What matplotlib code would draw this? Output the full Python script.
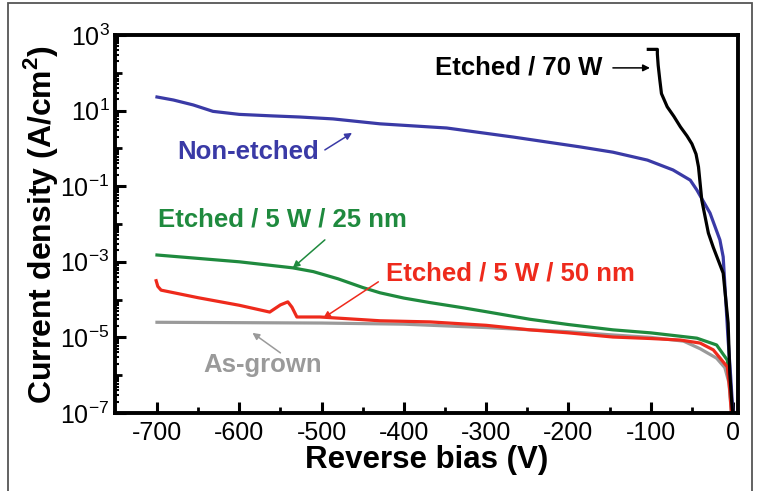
import matplotlib
matplotlib.use("Agg")
import matplotlib.pyplot as plt
import numpy as np
from matplotlib.patches import Rectangle
from matplotlib.ticker import FixedLocator, FixedFormatter, NullFormatter

plt.rcParams['font.family'] = ['Liberation Sans', 'DejaVu Sans']
plt.rcParams['mathtext.fontset'] = 'custom'
plt.rcParams['mathtext.rm'] = 'Liberation Sans'
plt.rcParams['mathtext.bf'] = 'Liberation Sans:bold'

# ---- data (log10 of current density, A/cm^2) ----
v_non_etched = [-700, -680, -656, -632, -600, -560, -526, -486, -429, -348, -267, -186, -146, -104, -73, -52, -44, -28, -16, -12, -6, -3, -1, 0]
log_non_etched = [1.36, 1.28, 1.15, 0.98, 0.90, 0.86, 0.83, 0.78, 0.65, 0.54, 0.30, 0.04, -0.10, -0.31, -0.57, -0.84, -1.10, -1.71, -2.42, -2.87, -5.07, -6.0, -6.7, -7.0]

v_70w = [-103, -92, -92, -91, -89, -87, -80, -72, -64, -56, -50, -45, -42, -38, -30, -24, -12, -6, -4, -1, 0]
log_70w = [2.62, 2.62, 2.5, 2.2, 1.81, 1.45, 1.10, 0.85, 0.57, 0.33, 0.12, -0.15, -0.49, -1.37, -2.24, -2.62, -3.3, -4.62, -5.94, -6.9, -7.0]

v_25nm = [-700, -600, -535, -510, -480, -450, -429, -400, -368, -330, -300, -247, -200, -146, -100, -44, -20, -7, -3, -1]
log_25nm = [-2.82, -3.0, -3.16, -3.26, -3.45, -3.68, -3.82, -3.96, -4.08, -4.21, -4.32, -4.52, -4.66, -4.80, -4.88, -5.02, -5.2, -5.6, -6.3, -7.0]

v_50nm = [-701, -699, -695, -650, -600, -563, -550, -541, -536, -530, -502, -429, -368, -300, -247, -200, -146, -100, -64, -40, -24, -7, -4, -2]
log_50nm = [-3.50, -3.65, -3.75, -3.95, -4.15, -4.33, -4.14, -4.06, -4.20, -4.46, -4.46, -4.56, -4.59, -4.68, -4.80, -4.88, -4.99, -5.03, -5.07, -5.15, -5.33, -5.78, -6.4, -7.0]

v_asgrown = [-700, -600, -500, -400, -300, -200, -150, -100, -60, -40, -20, -10, -5, -2]
log_asgrown = [-4.60, -4.61, -4.62, -4.65, -4.74, -4.85, -4.93, -5.0, -5.1, -5.3, -5.55, -5.8, -6.2, -7.0]

major_exp = [-7, -5, -3, -1, 1, 3]
minor_exp = [-6, -4, -2, 0, 2]
x_major = [-700, -600, -500, -400, -300, -200, -100, 0]
x_minor = [-650, -550, -450, -350, -250, -150, -50]

# ---- figure ----
fig = plt.figure(figsize=(7.58, 4.91), dpi=100)
W, H = 758.0, 491.0
fig.patches.append(Rectangle((8 / W, -0.02), 744 / W, 1.02 - 3 / H, transform=fig.transFigure,
                             fill=False, edgecolor='#555555', linewidth=1.3))
ax = fig.add_axes([115 / W, 1 - 413 / H, 623 / W, 378 / H])

c_blue = '#3a3aa6'
c_green = '#1f8a3e'
c_red = '#ee2a1c'
c_gray = '#9a9a9a'

ax.plot(v_asgrown, 10 ** np.array(log_asgrown), color=c_gray, lw=2.3)
ax.plot(v_25nm, 10 ** np.array(log_25nm), color=c_green, lw=2.3)
ax.plot(v_50nm, 10 ** np.array(log_50nm), color=c_red, lw=2.3)
ax.plot(v_non_etched, 10 ** np.array(log_non_etched), color=c_blue, lw=2.3)
ax.plot(v_70w, 10 ** np.array(log_70w), color='black', lw=2.3)

ax.set_yscale('log')
ax.set_xlim(-751, 6)
ax.set_ylim(1e-7, 1e3)

ax.yaxis.set_major_locator(FixedLocator([10.0 ** e for e in major_exp]))
ax.yaxis.set_major_formatter(FixedFormatter([r'$10^{%d}$' % e for e in major_exp]))
ax.yaxis.set_minor_locator(FixedLocator([10.0 ** e for e in minor_exp]))
ax.yaxis.set_minor_formatter(NullFormatter())
ax.xaxis.set_major_locator(FixedLocator(x_major))
ax.xaxis.set_minor_locator(FixedLocator(x_minor))
ax.set_xticklabels([str(v) for v in x_major])

ax.tick_params(which='major', direction='in', length=8, width=2.2, labelsize=18, pad=6,
               top=False, right=False)
ax.tick_params(axis='y', which='major', pad=4)
ax.tick_params(which='minor', direction='in', length=5, width=2.0, top=False, right=False)
ax.tick_params(axis='x', which='minor', length=4)
for s in ax.spines.values():
    s.set_linewidth(2.8)

# small log sub-ticks on the left spine
sub_ticks = [m * 10.0 ** e for e in range(-7, 3) for m in range(2, 10)]
sec = ax.secondary_yaxis('left')
sec.set_yscale('log')
sec.yaxis.set_major_locator(FixedLocator(sub_ticks))
sec.yaxis.set_major_formatter(NullFormatter())
sec.yaxis.set_minor_locator(FixedLocator([]))
sec.tick_params(which='both', direction='in', length=3, width=1.5)
sec.spines['left'].set_visible(False)

ax.set_xlabel('Reverse bias (V)', fontsize=22.5, fontweight='bold', labelpad=0)
ax.set_ylabel(r'Current density (A/cm$^{\mathbf{2}}$)', fontsize=23, fontweight='bold', labelpad=0)

# ---- annotations ----
def label(text, xy, color):
    ax.text(xy[0], 10 ** xy[1], text, color=color, fontsize=18.5, fontweight='bold',
            ha='center', va='center')

def arrow(tail, head, color):
    ax.annotate('', xy=(head[0], 10 ** head[1]), xytext=(tail[0], 10 ** tail[1]),
                arrowprops=dict(arrowstyle='-|>', color=color, lw=1.1,
                                mutation_scale=10, shrinkA=0, shrinkB=0))

label('Etched / 70 W', (-261, 2.15), 'black')
arrow((-146, 2.13), (-101, 2.13), 'black')
label('Non-etched', (-589, -0.10), c_blue)
arrow((-496, -0.04), (-463, 0.41), c_blue)
label('Etched / 5 W / 25 nm', (-548, -1.89), c_green)
arrow((-496, -2.42), (-535, -3.16), c_green)
label('Etched / 5 W / 50 nm', (-270, -3.30), c_red)
arrow((-431, -3.53), (-498, -4.49), c_red)
label('As-grown', (-572, -5.73), c_gray)
arrow((-550, -5.41), (-584, -4.88), c_gray)

fig.savefig('out.png', dpi=100)
